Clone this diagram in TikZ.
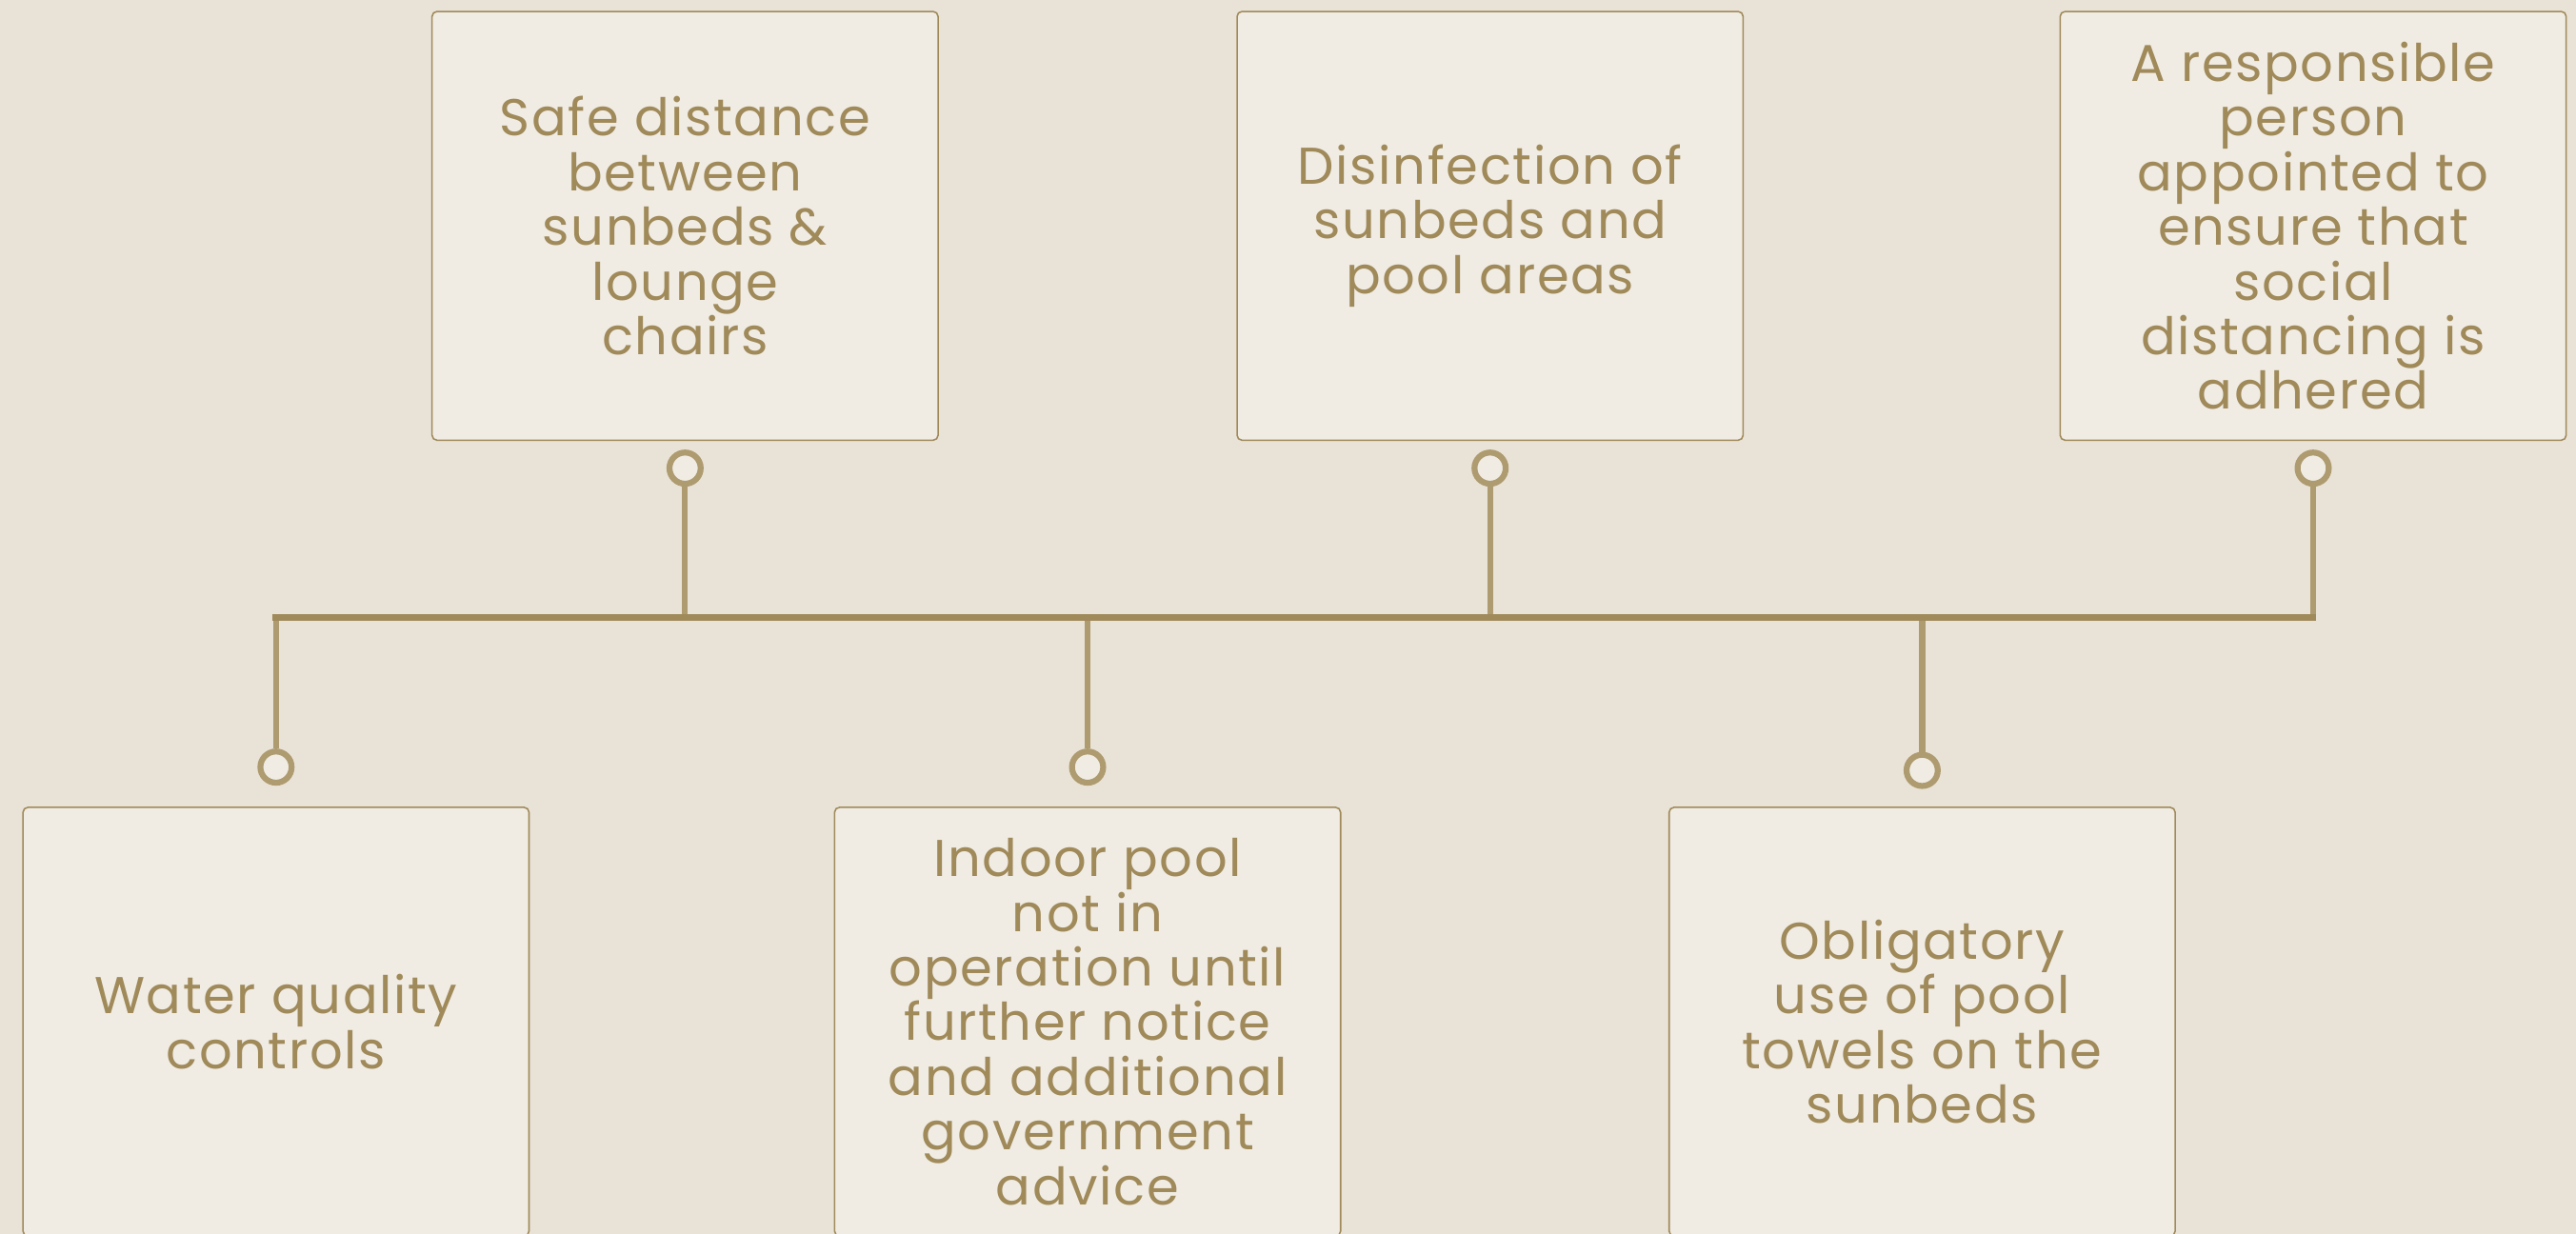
\documentclass[tikz,border=0pt]{standalone}
\usepackage{fontspec}
\setmainfont{Poppins}[LetterSpace=3]
\usetikzlibrary{positioning}
\definecolor{sand}{HTML}{E9E2D6}
\definecolor{paper}{HTML}{F0ECE4}
\definecolor{gold}{HTML}{A08A5A}
\definecolor{stemgold}{HTML}{AE9B6F}
\tikzset{
  card/.style={draw=gold, line width=0.9pt, fill=paper, rounded corners=3pt,
    minimum width=308pt, minimum height=261pt, inner sep=0pt,
    text=gold, align=center, font=\fontsize{31.5}{33.3}\selectfont},
  knob/.style={circle, draw=stemgold, line width=3.6pt, fill=paper,
    minimum size=19pt, inner sep=0pt},
  bus/.style={draw=gold, line width=4pt},
  stem/.style={draw=stemgold, line width=3.6pt}
}

\begin{document}
\begin{tikzpicture}[x=1pt,y=-1pt]
\fill[sand] (0,0) rectangle (1568,751);
\useasboundingbox (0,0) rectangle (1568,751);
% top row
\node[card] (safe) at (417,137.5) {Safe distance\\ between\\ sunbeds \&\\ lounge\\ chairs};
\node[card] (disinfect) at (907,137.5) {Disinfection of\\ sunbeds and\\ pool areas};
\node[card] (person) at (1408,137.5) {A responsible\\ person\\ appointed to\\ ensure that\\ social\\ distancing is\\ adhered};
% bottom row
\node[card] (water) at (168,622) {Water quality\\ controls};
\node[card] (indoor) at (662,622) {Indoor pool\\ not in\\ operation until\\ further notice\\ and additional\\ government\\ advice};
\node[card] (towels) at (1170,622) {Obligatory\\ use of pool\\ towels on the\\ sunbeds};
% knobs
\node[knob] (safeKnob) at (417,285) {};
\node[knob] (disinfectKnob) at (907,285) {};
\node[knob] (personKnob) at (1408,285) {};
\node[knob] (waterKnob) at (168,467) {};
\node[knob] (indoorKnob) at (662,467) {};
\node[knob] (towelsKnob) at (1170,469) {};
% bus line
\coordinate (busL) at (166,376);
\coordinate (busR) at (1410,376);
\draw[stem] (safeKnob) -- (safeKnob |- busL);
\draw[stem] (disinfectKnob) -- (disinfectKnob |- busL);
\draw[stem] (personKnob) -- (personKnob |- busL);
\draw[stem] (waterKnob |- busL) -- (waterKnob);
\draw[stem] (indoorKnob |- busL) -- (indoorKnob);
\draw[stem] (towelsKnob |- busL) -- (towelsKnob);
\draw[bus] (busL) -- (busR);
\end{tikzpicture}
\end{document}
